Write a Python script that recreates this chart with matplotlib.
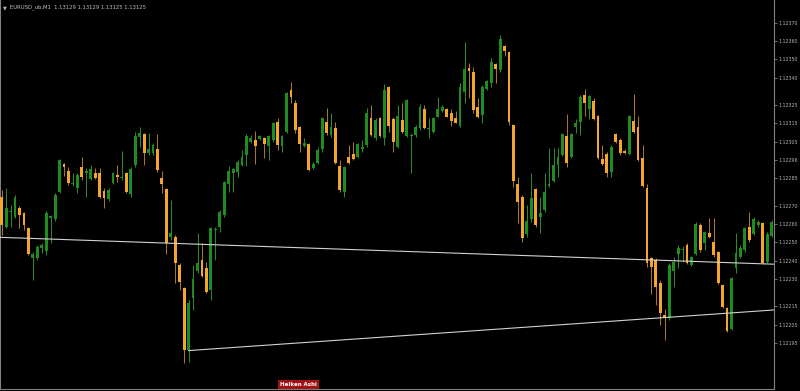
import matplotlib
matplotlib.use("Agg")
import matplotlib.pyplot as plt
import numpy as np

# Heiken Ashi candles, values in points above 1.12000 (1 point = 0.00001)
ha_open = [274.8, 258.4, 266.3, 263.8, 268.7, 266.0, 257.8, 241.4, 241.4, 246.9,
           245.3, 263.5, 262.7, 277.5, 292.8, 289.0, 281.6, 279.7, 291.2, 287.9,
           284.6, 287.9, 287.9, 278.0, 273.7, 282.4, 286.8, 285.1, 287.9, 276.4,
           292.2, 307.5, 309.2, 298.8, 298.8, 301.0, 285.1, 279.1, 252.9, 252.9,
           237.6, 225.0, 191.2, 219.6, 234.3, 240.3, 236.0, 223.9, 256.5, 258.4,
           264.9, 281.9, 287.9, 288.4, 292.2, 297.7, 304.8, 305.9, 306.5, 307.0,
           302.6, 305.9, 315.7, 302.6, 310.3, 333.2, 326.1, 313.0, 302.6, 303.7,
           290.6, 293.3, 301.0, 315.7, 308.6, 312.5, 291.7, 277.5, 296.6, 298.3,
           296.6, 301.0, 303.2, 317.9, 307.0, 317.9, 307.0, 334.9, 317.4, 302.1,
           316.8, 308.1, 307.8, 308.6, 312.5, 322.8, 311.7, 310.3, 318.5, 321.8,
           322.8, 320.7, 317.9, 313.6, 332.1, 345.2, 343.1, 323.9, 319.6, 333.8,
           337.0, 347.4, 344.2, 357.3, 354.0, 314.1, 281.9, 274.8, 254.5, 262.7,
           279.1, 263.8, 267.7, 280.8, 283.5, 292.2, 297.7, 308.1, 296.6, 313.0,
           315.7, 330.5, 322.8, 327.2, 319.0, 295.5, 298.3, 288.4, 309.2, 305.9,
           299.9, 298.3, 316.3, 313.0, 296.1, 279.7, 241.4, 240.3, 227.8, 210.3,
           208.6, 234.3, 243.6, 245.5, 248.5, 237.6, 243.6, 259.5, 249.6, 255.1,
           250.2, 244.7, 226.7, 214.1, 202.6, 236.0, 242.0, 245.8, 258.4, 254.5,
           259.5, 260.6, 239.2, 253.4]
ha_high = [278.6, 279.7, 270.4, 275.9, 269.8, 266.6, 258.4, 244.7, 248.5, 249.6,
           267.1, 264.9, 276.9, 295.5, 293.3, 291.2, 287.9, 287.9, 296.6, 290.6,
           292.2, 290.6, 290.6, 279.7, 279.7, 288.4, 292.2, 299.9, 288.4, 291.2,
           310.3, 313.0, 309.7, 309.7, 304.3, 309.2, 289.0, 279.7, 273.1, 254.0,
           238.7, 225.6, 218.5, 237.6, 255.1, 249.6, 239.2, 258.4, 258.4, 267.7,
           283.5, 291.7, 290.6, 295.0, 300.4, 309.2, 308.6, 310.8, 308.6, 307.5,
           308.6, 315.7, 317.9, 308.6, 332.1, 337.6, 327.8, 313.6, 307.0, 304.3,
           293.9, 302.1, 318.5, 323.4, 320.7, 315.7, 295.0, 291.7, 303.2, 304.8,
           304.3, 305.9, 323.4, 325.0, 317.9, 318.5, 336.5, 335.4, 318.5, 325.0,
           326.1, 328.3, 309.7, 314.1, 325.6, 325.0, 317.9, 318.5, 329.4, 325.0,
           323.4, 322.8, 321.8, 337.0, 359.5, 348.0, 345.8, 328.9, 336.0, 338.6,
           350.7, 348.0, 363.3, 357.8, 354.5, 314.6, 285.7, 275.9, 270.4, 287.9,
           279.7, 274.8, 287.9, 301.5, 301.5, 301.5, 309.7, 320.1, 309.7, 317.4,
           330.5, 333.8, 330.5, 328.9, 319.6, 303.2, 299.4, 303.2, 309.7, 307.0,
           301.0, 319.6, 331.0, 319.0, 303.2, 281.9, 242.0, 241.4, 229.4, 213.6,
           238.7, 242.0, 248.5, 248.0, 249.6, 242.5, 261.1, 260.6, 256.2, 263.3,
           263.3, 245.3, 227.2, 214.7, 231.0, 255.1, 248.5, 258.4, 266.6, 263.8,
           262.2, 261.1, 255.6, 262.2]
ha_low = [254.0, 257.8, 258.4, 263.3, 257.8, 256.7, 243.1, 229.4, 240.3, 244.2,
          243.1, 249.6, 261.6, 276.9, 286.2, 281.3, 280.8, 276.9, 284.0, 274.8,
          284.0, 284.6, 274.2, 268.7, 272.6, 281.9, 283.0, 284.0, 276.9, 274.8,
          291.2, 302.1, 292.2, 297.7, 297.7, 288.4, 276.9, 243.6, 251.3, 227.8,
          223.9, 184.1, 184.6, 213.0, 233.2, 231.0, 222.3, 218.5, 240.3, 255.6,
          263.8, 277.5, 277.5, 285.7, 291.7, 291.7, 304.3, 292.8, 305.9, 296.1,
          295.0, 304.8, 300.4, 299.4, 309.7, 326.1, 309.7, 299.4, 302.1, 289.0,
          290.1, 292.8, 299.4, 308.6, 307.5, 292.8, 277.5, 274.8, 292.8, 295.0,
          296.1, 299.4, 302.1, 308.1, 305.9, 307.5, 303.2, 310.3, 299.4, 301.5,
          309.7, 307.5, 287.9, 307.5, 311.4, 311.9, 307.0, 309.7, 318.2, 321.2,
          318.2, 313.6, 315.0, 313.0, 326.1, 328.9, 320.7, 317.9, 315.2, 333.2,
          334.9, 337.0, 343.1, 351.8, 314.1, 280.2, 260.6, 250.2, 252.9, 261.1,
          258.4, 255.1, 266.6, 280.2, 283.0, 285.7, 297.2, 291.2, 296.1, 309.7,
          308.6, 319.0, 317.4, 316.8, 295.5, 292.2, 285.7, 285.7, 304.3, 297.7,
          298.3, 297.7, 309.7, 294.4, 280.2, 236.5, 221.8, 215.7, 204.8, 196.6,
          207.6, 225.6, 236.0, 239.2, 238.1, 237.1, 243.1, 244.7, 245.8, 252.4,
          242.0, 227.2, 214.1, 201.0, 202.1, 233.2, 241.4, 244.7, 250.2, 254.0,
          258.4, 238.1, 238.7, 252.9]
ha_close = [259.5, 268.7, 266.9, 274.8, 264.9, 259.5, 243.6, 243.6, 247.4, 248.5,
            266.0, 264.0, 275.9, 295.0, 291.2, 282.4, 282.0, 286.8, 285.7, 289.0,
            290.1, 285.1, 274.8, 274.2, 278.6, 287.9, 285.7, 285.7, 277.5, 290.1,
            308.1, 309.7, 298.8, 301.0, 303.2, 289.5, 281.9, 249.6, 255.1, 238.7,
            228.3, 191.2, 216.8, 229.9, 238.7, 231.6, 222.8, 257.8, 257.0, 266.6,
            283.0, 289.0, 290.1, 293.9, 296.6, 308.1, 307.0, 302.6, 308.1, 303.7,
            308.1, 315.2, 303.2, 308.1, 331.6, 329.4, 311.4, 303.7, 304.3, 289.5,
            292.8, 300.4, 317.9, 309.7, 313.0, 293.3, 278.6, 291.2, 293.3, 295.5,
            303.7, 302.1, 320.7, 308.6, 316.8, 308.1, 333.2, 313.6, 304.8, 319.0,
            310.3, 327.8, 308.3, 313.0, 323.9, 312.5, 312.2, 317.9, 322.8, 323.9,
            318.5, 316.3, 315.2, 334.9, 344.7, 343.6, 322.3, 318.5, 334.9, 338.1,
            348.5, 344.7, 361.1, 354.5, 315.7, 283.5, 272.0, 252.4, 261.6, 274.2,
            259.5, 266.0, 277.5, 281.9, 292.2, 296.6, 309.2, 293.3, 309.2, 315.2,
            329.4, 326.1, 329.9, 317.4, 296.1, 292.8, 287.9, 302.1, 304.8, 298.8,
            298.8, 319.0, 310.3, 295.0, 280.8, 238.7, 236.5, 225.6, 211.4, 208.6,
            237.6, 239.2, 246.9, 246.0, 238.7, 242.0, 260.0, 245.8, 255.6, 252.9,
            243.1, 227.8, 214.7, 201.5, 230.5, 244.2, 246.9, 257.8, 251.3, 262.7,
            261.1, 238.7, 254.5, 261.1]

# trend lines: (bar index, points)
upper_line_bars = [-0.38, 173.55]
upper_line_pts = [252.7, 238.0]
lower_line_bars = [42, 173.55]
lower_line_pts = [190.8, 213.0]

tick_values = [370, 360, 350, 340, 325, 315, 305, 295, 285, 270, 260, 250, 240,
               230, 215, 205, 195]
tick_labels = ["1.12370", "1.12360", "1.12350", "1.12340", "1.12325", "1.12315",
               "1.12305", "1.12296", "1.12285", "1.12270", "1.12260", "1.12250",
               "1.12240", "1.12230", "1.12215", "1.12205", "1.12195"]

base = 1.12
pt = 1e-5
o = base + np.array(ha_open) * pt
h = base + np.array(ha_high) * pt
l = base + np.array(ha_low) * pt
c = base + np.array(ha_close) * pt
idx = np.arange(len(o))

GREEN = "#1f8c1f"
GREEN_W = "#2a8a2a"
ORANGE = "#f4a52e"
ORANGE_W = "#a8752f"
GRID = "#808080"

fig = plt.figure(figsize=(8, 3.91), dpi=100, facecolor="black")
ax = fig.add_axes([0, 2 / 391, 774 / 800, 389 / 391], facecolor="black")

up = c >= o
wick_cols = np.where(up, GREEN_W, ORANGE_W)
ax.vlines(idx, l, h, colors=wick_cols, linewidth=0.75, zorder=2)
body_bottom = np.minimum(o, c)
body_h = np.maximum(np.abs(c - o), 0.6 * pt)
body_cols = np.where(up, GREEN, ORANGE)
ax.bar(idx, body_h, bottom=body_bottom, width=0.64, color=body_cols,
       linewidth=0, zorder=3)

ax.plot(upper_line_bars, base + np.array(upper_line_pts) * pt, color="#d2d2d2",
        linewidth=0.8, zorder=4)
ax.plot(lower_line_bars, base + np.array(lower_line_pts) * pt, color="#d2d2d2",
        linewidth=0.8, zorder=4)

ax.set_xlim(-0.382, 173.55)
ax.set_ylim(base + 169.8 * pt, base + 382.4 * pt)

ax.set_xticks([])
ax.yaxis.tick_right()
ax.set_yticks(base + np.array(tick_values) * pt)
ax.set_yticklabels(tick_labels)
ax.tick_params(axis="y", colors=GRID, labelcolor="#b4b4b4", labelsize=3.4,
               length=2.5, width=0.6, pad=0.6)
for s in ax.spines.values():
    s.set_color(GRID)
    s.set_linewidth(0.8)
ax.spines["top"].set_visible(False)

fig.text(3 / 800, 1 - 7.5 / 391, "\u25bc", color="#c0c0c0", fontsize=3.5,
         va="center", ha="left")
fig.text(10 / 800, 1 - 7.5 / 391,
         "EURUSD_ub,M1  1.13129 1.13129 1.13125 1.13125",
         color="#c0c0c0", fontsize=3.8, va="center", ha="left")
fig.text(298.5 / 800, 1 - 384.5 / 391, "Heiken Ashi", color="white",
         fontsize=4, fontweight="bold", va="center", ha="center",
         bbox=dict(facecolor="#a31212", edgecolor="none", pad=1.2))

fig.savefig("out.png", dpi=100, facecolor="black")
